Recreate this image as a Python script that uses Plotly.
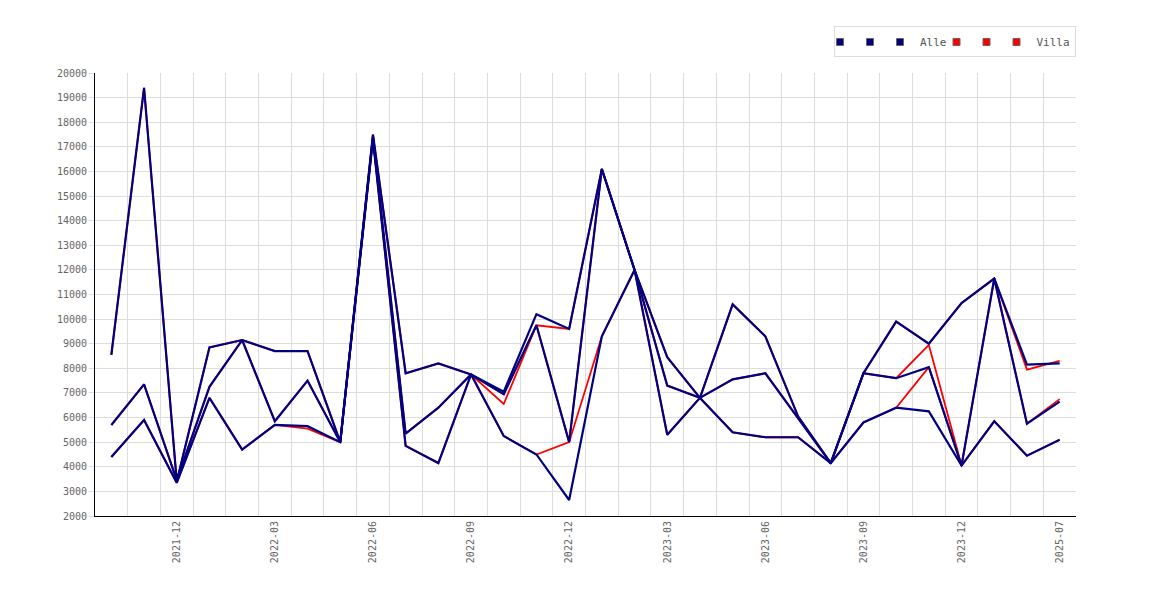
import plotly.graph_objects as go

# Monatskategorien (x-Achse)
months = [
    "2021-10", "2021-11", "2021-12", "2022-01", "2022-02", "2022-03",
    "2022-04", "2022-05", "2022-06", "2022-07", "2022-08", "2022-09",
    "2022-10", "2022-11", "2022-12", "2023-01", "2023-02", "2023-03",
    "2023-04", "2023-05", "2023-06", "2023-07", "2023-08", "2023-09",
    "2023-10", "2023-11", "2023-12", "2024-01", "2024-02", "2025-07",
]

# Alle Objekte
alle_1 = [8550, 19400, 3400, 8850, 9150, 8700, 8700, 5000, 17500, 7800,
          8200, 7750, 7050, 10200, 9600, 16100, 12000, 8450, 6800, 10600,
          9300, 6050, 4150, 7800, 9900, 9000, 10650, 11650, 8150, 8200]
alle_2 = [5700, 7350, 3450, 7250, 9150, 5850, 7500, 5000, 17400, 5350,
          6400, 7750, 6950, 9750, 5000, 16100, 12000, 7300, 6800, 7550,
          7800, 6000, 4150, 7800, 7600, 8050, 4050, 11650, 5750, 6650]
alle_3 = [4400, 5900, 3350, 6800, 4700, 5700, 5650, 5000, 17300, 4850,
          4150, 7750, 5250, 4500, 2650, 9300, 12000, 5300, 6800, 5400,
          5200, 5200, 4150, 5800, 6400, 6250, 4050, 5850, 4450, 5100]

# Nur Villen
villa_1 = [8550, 19400, 3400, 8850, 9150, 8700, 8700, 5000, 17500, 7800,
           8200, 7750, 6550, 9750, 9600, 16100, 12000, 8450, 6800, 10600,
           9300, 6050, 4150, 7800, 9900, 9000, 10650, 11650, 7950, 8300]
villa_2 = [5700, 7350, 3450, 7250, 9150, 5850, 7500, 5000, 17400, 5350,
           6400, 7750, 6950, 9750, 5000, 16100, 12000, 7300, 6800, 7550,
           7800, 6000, 4150, 7800, 7600, 8950, 4050, 11650, 5750, 6750]
villa_3 = [4400, 5900, 3350, 6800, 4700, 5700, 5550, 5000, 17300, 4850,
           4150, 7750, 5250, 4500, 5000, 9300, 12000, 5300, 6800, 5400,
           5200, 5200, 4150, 5800, 6400, 8050, 4050, 5850, 4450, 5100]

# nur jede dritte Kategorie beschriftet
tick_text = [m if i % 3 == 2 else "" for i, m in enumerate(months)]

NAVY = "#000080"
RED = "#ff0000"
FONT = "DejaVu Sans Mono"

fig = go.Figure()

# Villa zuerst, damit Alle darueber liegt
for ys in (villa_1, villa_2, villa_3):
    fig.add_trace(go.Scatter(x=months, y=ys, mode="lines",
                             line=dict(color=RED, width=1.8),
                             showlegend=False, hoverinfo="skip"))
for ys in (alle_1, alle_2, alle_3):
    fig.add_trace(go.Scatter(x=months, y=ys, mode="lines",
                             line=dict(color=NAVY, width=2.2),
                             showlegend=False))

# Legende: drei Kaestchen pro Gruppe
for name, color in (("", NAVY), ("", NAVY), ("Alle", NAVY),
                    ("", RED), ("", RED), ("Villa", RED)):
    fig.add_trace(go.Scatter(x=[None], y=[None], mode="markers", name=name,
                             marker=dict(symbol="square", size=7, color=color,
                                         line=dict(color="#666666", width=1))))

# body hat 8px Rand -> Raender entsprechend verschoben
fig.update_layout(
    width=1170, height=600,
    paper_bgcolor="white",
    plot_bgcolor="white",
    margin=dict(l=87, r=102, t=65, b=92),
    font=dict(family=FONT, size=10, color="#666666"),
    legend=dict(
        orientation="h",
        x=1, xanchor="right",
        y=1.035, yanchor="bottom",
        bordercolor="#dddddd", borderwidth=1,
        indentation=-15,
        font=dict(family=FONT, size=11, color="#555555"),
        tracegroupgap=0,
    ),
    xaxis=dict(
        type="category",
        range=[-0.5, len(months) - 0.5],
        tickmode="array",
        tickvals=months,
        ticktext=tick_text,
        tickson="boundaries",
        tickangle=-90,
        showgrid=True,
        gridcolor="#dddddd",
        showline=True,
        linecolor="black",
        linewidth=1,
        ticks="",
        zeroline=False,
    ),
    yaxis=dict(
        range=[2000, 20000],
        dtick=1000,
        tickformat="d",
        showgrid=True,
        gridcolor="#dddddd",
        showline=True,
        linecolor="black",
        linewidth=1,
        ticks="outside",
        ticklen=5,
        tickcolor="#dddddd",
        zeroline=False,
    ),
)

fig.write_html("out.html")
